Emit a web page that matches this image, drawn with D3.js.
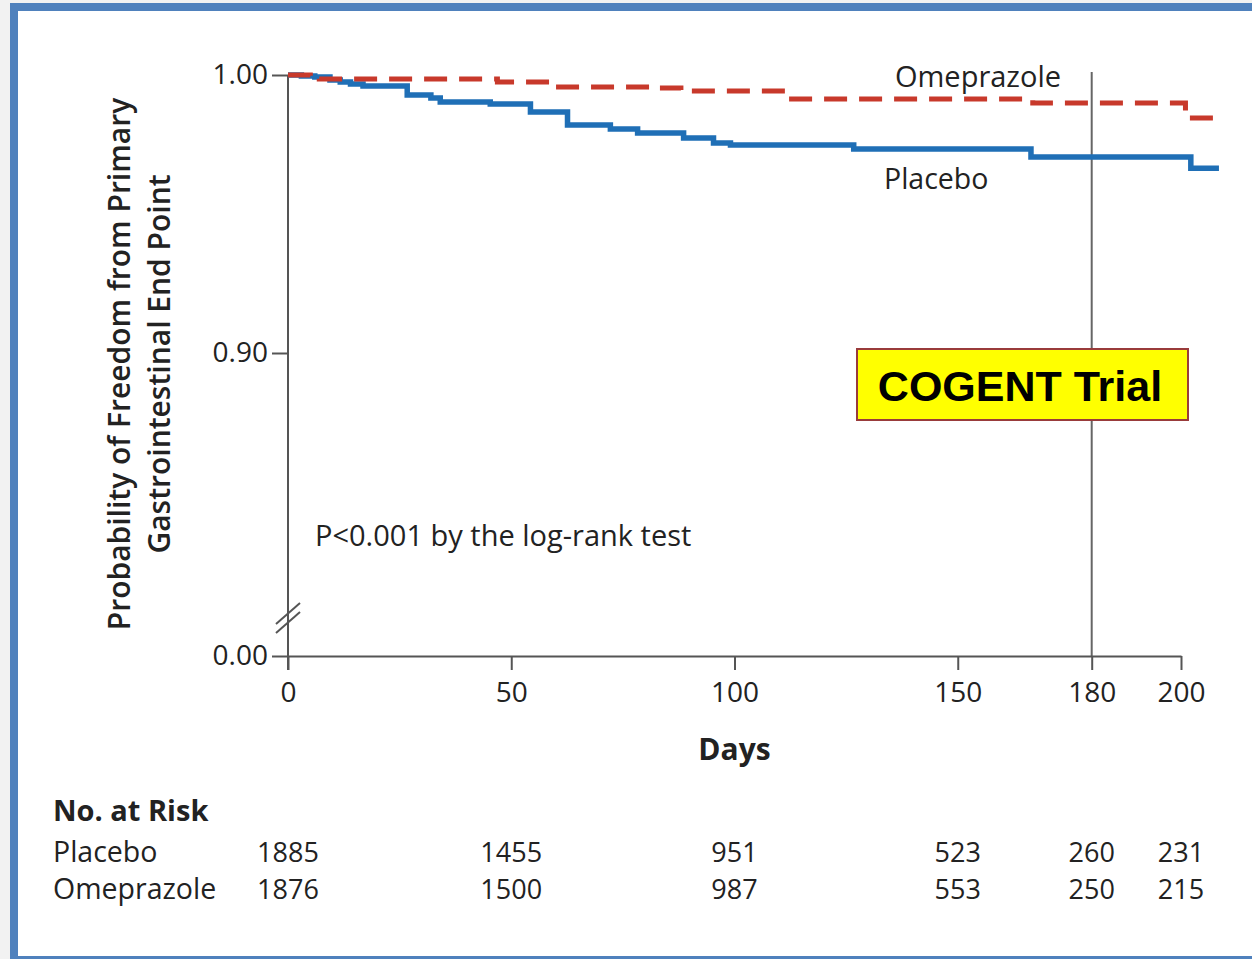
<!DOCTYPE html>
<html>
<head>
<meta charset="utf-8">
<script src="https://cdn.jsdelivr.net/npm/d3@7"></script>
<style>
  body { margin: 0; background: #f2f2f2; }
  svg { display: block; }
  .lbl { font-family: "Open Sans", sans-serif; fill: #222; }
  .axis text { font-family: "Open Sans", sans-serif; font-size: 27px; fill: #222; }
  .axis path, .axis line { stroke: #555; stroke-width: 2; }
</style>
</head>
<body>
<div id="chart"></div>
<script>
var width = 1252, height = 959;

// survival steps (day, probability)
var placeboDays = [0, 3, 6, 9.4, 11.7, 14, 16.8, 26.7, 32, 34.1, 45.3, 54.3, 62.6, 72.2, 78.3, 88.6, 95.3, 99.1, 126.7, 166.4, 202.2, 208.5];
var placeboSurv = [1.000, 0.9996, 0.9993, 0.9982, 0.9975, 0.9968, 0.9960, 0.9928, 0.9917, 0.9903, 0.9896, 0.9867, 0.9820, 0.9806, 0.9791, 0.9773, 0.9755, 0.9748, 0.9734, 0.9705, 0.9665, 0.9665];
var omeDays = [0, 5, 7, 46.9, 58.7, 82, 88, 111.4, 166.8, 201, 208.5];
var omeSurv = [1.000, 0.9993, 0.9986, 0.9975, 0.9957, 0.9953, 0.9942, 0.9914, 0.9899, 0.9845, 0.9845];

var xTicks = [0, 50, 100, 150, 180, 200];
var riskDays = [0, 50, 100, 150, 180, 200];
var riskPlacebo = [1885, 1455, 951, 523, 260, 231];
var riskOme = [1876, 1500, 987, 553, 250, 215];

var svg = d3.select("#chart").append("svg")
  .attr("width", width)
  .attr("height", height);

// frame
svg.append("rect").attr("x", 10).attr("y", 3).attr("width", width - 10).attr("height", height - 3)
  .attr("fill", "#4f81bd");
svg.append("rect").attr("x", 18).attr("y", 11).attr("width", width - 18).attr("height", height - 14)
  .attr("fill", "#fff");

var x = d3.scaleLinear().domain([0, 200]).range([288, 1181]);
var y = d3.scaleLinear().domain([0.9, 1.0]).range([353, 75]);
var yLow = d3.scaleLinear().domain([0, 0.9]).range([656, 353]);

// vertical reference at day 180
svg.append("line")
  .attr("x1", x(180)).attr("x2", x(180))
  .attr("y1", 72).attr("y2", 656)
  .attr("stroke", "#666").attr("stroke-width", 2);

// x axis
var xAxis = svg.append("g")
  .attr("class", "axis")
  .attr("transform", "translate(0," + yLow(0) + ")")
  .call(d3.axisBottom(x).tickValues(xTicks).tickSize(14).tickSizeOuter(0).tickPadding(8));
xAxis.selectAll("text").attr("dy", "0.85em");

// y axis upper part
var yAxis = svg.append("g")
  .attr("class", "axis")
  .attr("transform", "translate(" + x(0) + ",0)")
  .call(d3.axisLeft(y).tickValues([0.9, 1.0]).tickFormat(d3.format(".2f")).tickSize(16).tickSizeOuter(0).tickPadding(4));
yAxis.select(".domain").remove();

svg.append("g")
  .attr("class", "axis")
  .attr("transform", "translate(" + x(0) + ",0)")
  .call(d3.axisLeft(yLow).tickValues([0]).tickFormat(d3.format(".2f")).tickSize(16).tickSizeOuter(0).tickPadding(4))
  .select(".domain").remove();

svg.selectAll(".axis text").style("font-size", "28px");

svg.append("line")
  .attr("x1", x(0)).attr("x2", x(0))
  .attr("y1", y(1.0)).attr("y2", yLow(0) + 14)
  .attr("stroke", "#555").attr("stroke-width", 2);

// axis break marks
[0, 9].forEach(function(o) {
  svg.append("line")
    .attr("x1", x(0) - 12).attr("y1", 633 - o)
    .attr("x2", x(0) + 12).attr("y2", 612 - o)
    .attr("stroke", "#555").attr("stroke-width", 2);
});

// curves
var line = d3.line()
  .x(function(d) { return x(d[0]); })
  .y(function(d) { return y(d[1]); })
  .curve(d3.curveStepAfter);

svg.append("path")
  .datum(d3.zip(placeboDays, placeboSurv))
  .attr("fill", "none")
  .attr("stroke", "#1f6fb6")
  .attr("stroke-width", 5.5)
  .attr("d", line);

svg.append("path")
  .datum(d3.zip(omeDays, omeSurv))
  .attr("fill", "none")
  .attr("stroke", "#c8392b")
  .attr("stroke-width", 5)
  .attr("stroke-dasharray", "23,12")
  .attr("d", line);

// labels
svg.append("text").attr("class", "lbl").attr("x", 978).attr("y", 87)
  .attr("text-anchor", "middle").style("font-size", "29px").text("Omeprazole");
svg.append("text").attr("class", "lbl").attr("x", 884).attr("y", 189)
  .style("font-size", "28.5px").text("Placebo");
svg.append("text").attr("class", "lbl").attr("x", 315).attr("y", 546)
  .style("font-size", "29px").text("P<0.001 by the log-rank test");

// y title
var yt = svg.append("text").attr("class", "lbl")
  .attr("transform", "translate(130,364) rotate(-90)")
  .attr("text-anchor", "middle")
  .style("font-size", "30px").style("font-weight", 600);
yt.append("tspan").attr("x", 0).attr("y", 0).text("Probability of Freedom from Primary");
yt.append("tspan").attr("x", 0).attr("y", 40).text("Gastrointestinal End Point");

svg.append("text").attr("class", "lbl").attr("x", x(100)).attr("y", 760)
  .attr("text-anchor", "middle").style("font-size", "30px").style("font-weight", 700).text("Days");

// COGENT box
svg.append("rect").attr("x", 857).attr("y", 349).attr("width", 331).attr("height", 71)
  .attr("fill", "#ffff00").attr("stroke", "#993b3b").attr("stroke-width", 2);
svg.append("text").attr("x", 1020).attr("y", 401).attr("text-anchor", "middle")
  .style("font-family", "'Liberation Sans', Arial, sans-serif")
  .style("font-size", "43px").style("font-weight", 700).text("COGENT Trial");

// number at risk
svg.append("text").attr("class", "lbl").attr("x", 53).attr("y", 821)
  .style("font-size", "29px").style("font-weight", 700).text("No. at Risk");
svg.append("text").attr("class", "lbl").attr("x", 53).attr("y", 862)
  .style("font-size", "28.5px").text("Placebo");
svg.append("text").attr("class", "lbl").attr("x", 53).attr("y", 899)
  .style("font-size", "28.5px").text("Omeprazole");

svg.selectAll(".riskP").data(riskPlacebo).enter().append("text")
  .attr("class", "lbl riskP")
  .attr("x", function(d, i) { return x(riskDays[i]); })
  .attr("y", 862).attr("text-anchor", "middle").style("font-size", "27px")
  .text(function(d) { return d; });
svg.selectAll(".riskO").data(riskOme).enter().append("text")
  .attr("class", "lbl riskO")
  .attr("x", function(d, i) { return x(riskDays[i]); })
  .attr("y", 899).attr("text-anchor", "middle").style("font-size", "27px")
  .text(function(d) { return d; });
</script>
</body>
</html>
